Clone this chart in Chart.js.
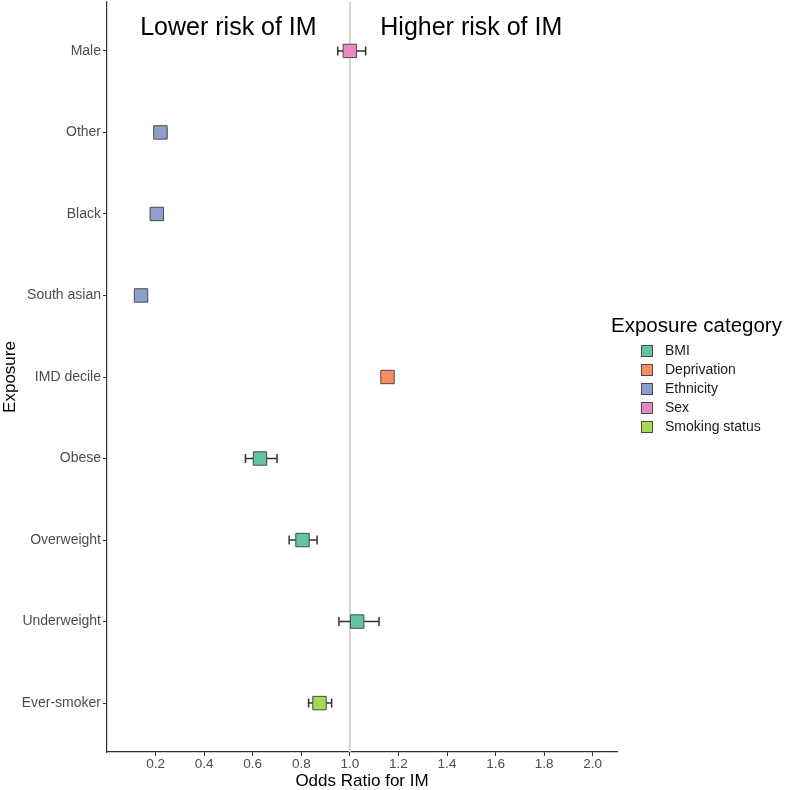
<!DOCTYPE html>
<html>
<head>
<meta charset="utf-8">
<script src="https://cdn.jsdelivr.net/npm/chart.js@4.4.1/dist/chart.umd.min.js"></script>
<style>
  html, body { margin: 0; padding: 0; background: #fff; }
  #wrap { width: 787px; height: 790px; }
</style>
</head>
<body>
<div id="wrap"><canvas id="forest" width="787" height="790"></canvas></div>
<script>
// exposures, top to bottom
const exposures = ['Male', 'Other', 'Black', 'South asian', 'IMD decile', 'Obese', 'Overweight', 'Underweight', 'Ever-smoker'];
const exposureGroup = ['Sex', 'Ethnicity', 'Ethnicity', 'Ethnicity', 'Deprivation', 'BMI', 'BMI', 'BMI', 'Smoking status'];
const oddsRatio = [1.00, 0.22, 0.205, 0.14, 1.155, 0.63, 0.805, 1.03, 0.875];
const ciLow = [0.95, 0.20, 0.19, 0.13, 1.14, 0.57, 0.75, 0.955, 0.83];
const ciHigh = [1.065, 0.245, 0.22, 0.15, 1.17, 0.70, 0.865, 1.12, 0.925];

const categories = ['BMI', 'Deprivation', 'Ethnicity', 'Sex', 'Smoking status'];
const categoryColors = ['#66C2A5', '#FC8D62', '#8DA0CB', '#E78AC3', '#A6D854'];

const xTicks = [0.2, 0.4, 0.6, 0.8, 1.0, 1.2, 1.4, 1.6, 1.8, 2.0];

const FONT = '"Liberation Sans", Arial, sans-serif';

// one dataset per exposure category
const datasets = categories.map(function (cat, ci) {
  const pts = [];
  exposures.forEach(function (e, i) {
    if (exposureGroup[i] === cat) {
      pts.push({ x: oddsRatio[i], y: i + 1, lo: ciLow[i], hi: ciHigh[i] });
    }
  });
  return {
    label: cat,
    data: pts,
    backgroundColor: categoryColors[ci],
    borderColor: '#4a4a4a',
    borderWidth: 1,
    pointStyle: 'rect',
    pointRadius: 9.5,
    pointHoverRadius: 9.5
  };
});

const forestExtras = {
  id: 'forestExtras',
  beforeDatasetsDraw(chart) {
    const ctx = chart.ctx;
    const xs = chart.scales.x, ys = chart.scales.y;
    const area = chart.chartArea;
    ctx.save();
    // reference line at OR = 1
    ctx.strokeStyle = '#d3d3d3';
    ctx.lineWidth = 2;
    ctx.beginPath();
    ctx.moveTo(xs.getPixelForValue(1), area.top);
    ctx.lineTo(xs.getPixelForValue(1), area.bottom);
    ctx.stroke();
    // error bars
    ctx.strokeStyle = '#333';
    ctx.lineWidth = 1.5;
    chart.data.datasets.forEach(function (ds) {
      ds.data.forEach(function (p) {
        const y = ys.getPixelForValue(p.y);
        const a = xs.getPixelForValue(p.lo), b = xs.getPixelForValue(p.hi);
        ctx.beginPath();
        ctx.moveTo(a, y); ctx.lineTo(b, y);
        ctx.moveTo(a, y - 4.5); ctx.lineTo(a, y + 4.5);
        ctx.moveTo(b, y - 4.5); ctx.lineTo(b, y + 4.5);
        ctx.stroke();
      });
    });
    // labels
    ctx.fillStyle = '#000';
    ctx.font = '25px ' + FONT;
    ctx.textAlign = 'center';
    ctx.textBaseline = 'middle';
    ctx.fillText('Lower risk of IM', xs.getPixelForValue(0.5), ys.getPixelForValue(0.72));
    ctx.fillText('Higher risk of IM', xs.getPixelForValue(1.5), ys.getPixelForValue(0.72));
    ctx.restore();
  },
  afterDraw(chart) {
    // legend
    const ctx = chart.ctx;
    ctx.save();
    ctx.fillStyle = '#000';
    ctx.font = '20.5px ' + FONT;
    ctx.textAlign = 'left';
    ctx.textBaseline = 'middle';
    ctx.fillText('Exposure category', 611, 326);
    ctx.font = '14px ' + FONT;
    categories.forEach(function (cat, i) {
      const cy = 351 + i * 19;
      ctx.fillStyle = categoryColors[i];
      ctx.fillRect(641, cy - 6, 12, 12);
      ctx.strokeStyle = '#4a4a4a';
      ctx.lineWidth = 1;
      ctx.strokeRect(641.5, cy - 5.5, 11, 11);
      ctx.fillStyle = '#1a1a1a';
      ctx.fillText(cat, 665, cy);
    });
    ctx.restore();
  }
};

new Chart(document.getElementById('forest'), {
  type: 'scatter',
  data: { datasets: datasets },
  plugins: [forestExtras],
  options: {
    responsive: false,
    animation: false,
    layout: { autoPadding: false, padding: { top: 2, right: 170, left: 0, bottom: 0 } },
    plugins: { legend: { display: false }, tooltip: { enabled: false } },
    scales: {
      x: {
        type: 'linear',
        min: 0,
        max: 2.1,
        afterBuildTicks: function (s) { s.ticks = xTicks.map(function (v) { return { value: v }; }); },
        afterFit: function (s) { s.height = 38; s.paddingLeft = 0; s.paddingRight = 0; },
        grid: { display: true, drawOnChartArea: false, color: '#333', tickLength: 4 },
        border: { display: true, color: '#333', width: 1.2 },
        ticks: {
          color: '#4d4d4d',
          font: { family: FONT, size: 13.5 },
          padding: 0,
          callback: function (v) { return v.toFixed(1); }
        },
        title: { display: true, text: 'Odds Ratio for IM', color: '#000', font: { family: FONT, size: 17 }, padding: { top: 0, bottom: -2 } }
      },
      y: {
        type: 'linear',
        reverse: true,
        min: 0.4,
        max: 9.6,
        afterBuildTicks: function (s) { s.ticks = exposures.map(function (e, i) { return { value: i + 1 }; }); },
        // keep the axis box flush with the chart area (no half-label padding)
        afterFit: function (s) { s.width = 107; s.paddingTop = 0; s.paddingBottom = 0; },
        grid: { display: true, drawOnChartArea: false, color: '#333', tickLength: 4 },
        border: { display: true, color: '#333', width: 1.2 },
        ticks: {
          color: '#4d4d4d',
          font: { family: FONT, size: 14 },
          padding: 2,
          callback: function (v) { return exposures[v - 1]; }
        },
        title: { display: true, text: 'Exposure', color: '#000', font: { family: FONT, size: 17 }, padding: 0 }
      }
    }
  }
});
</script>
</body>
</html>
